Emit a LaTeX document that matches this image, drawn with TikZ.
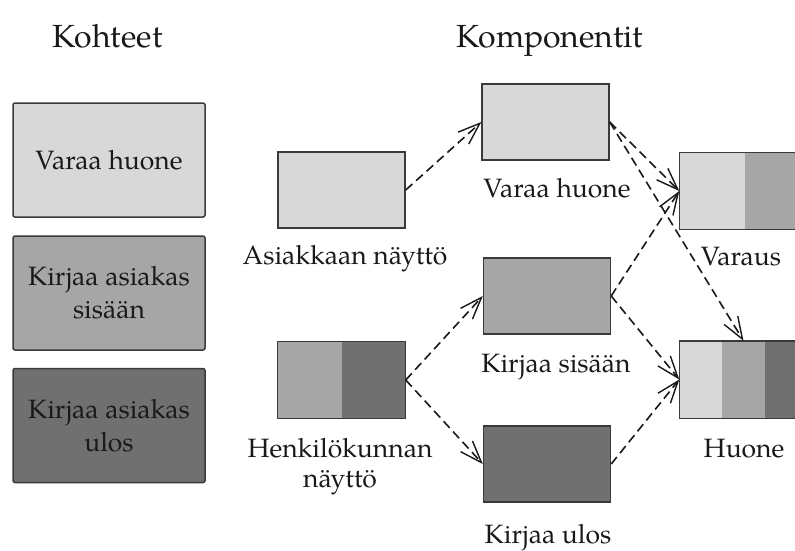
\documentclass[tikz,border=0pt]{standalone}
\usepackage{fontspec}
\setmainfont{TeX Gyre Pagella}
\usetikzlibrary{arrows.meta,calc}
\definecolor{lightg}{HTML}{D8D8D8}
\definecolor{midg}{HTML}{A6A6A6}
\definecolor{darkg}{HTML}{707070}
\definecolor{edgeg}{HTML}{3A3A3A}

\begin{document}
\begin{tikzpicture}[x=1pt,y=-1pt,
  every node/.style={font=\fontsize{26.5}{33}\selectfont, inner sep=0pt, text=black!90},
  titletext/.style={font=\fontsize{32}{38}\selectfont, anchor=base},
  labeltext/.style={anchor=base, align=center},
  taskbox/.style={draw=edgeg, line width=1.5pt, rounded corners=2pt,
    minimum width=192pt, minimum height=114pt, align=center},
  compbox/.style={draw=edgeg, line width=1.4pt, minimum width=127pt, minimum height=76pt},
  outline/.style={draw=edgeg, line width=1.4pt},
  uses/.style={draw=black!90, line width=1.6pt, dash pattern=on 9pt off 5pt,
    -{Straight Barb[length=22pt,width=16pt,line width=1.4pt]}}
]
\fill[white] (0,0) rectangle (795,550);
\useasboundingbox (0,0) rectangle (795,550);
\clip (0,0) rectangle (795,550);

% column titles
\node[titletext] (tkoht) at (107.5,47) {Kohteet};
\node[titletext] (tkomp) at (550,47) {Komponentit};

% use cases
\node[taskbox, fill=lightg] (k1) at (109,160) {Varaa huone};
\node[taskbox, fill=midg]   (k2) at (109,293) {Kirjaa asiakas\\sisään};
\node[taskbox, fill=darkg]  (k3) at (109,425.5) {Kirjaa asiakas\\ulos};

% single-colour components
\node[compbox, fill=lightg] (asi)    at (341.5,190) {};
\node[compbox, fill=lightg] (varaa)  at (545.5,122) {};
\node[compbox, fill=midg]   (sisaan) at (547,296) {};
\node[compbox, fill=darkg]  (ulos)   at (547,464) {};

% staff screen: two halves
\node[compbox, draw=none] (henk) at (341.5,380) {};
\fill[midg] (henk.north west) rectangle ($(henk.south west)!0.5!(henk.south east)$);
\fill[darkg] ($(henk.north west)!0.5!(henk.north east)$) rectangle (henk.south east);
\draw[outline] (henk.north west) rectangle (henk.south east);

% reservation: two halves
\node[compbox, draw=none, minimum width=130pt] (varaus) at (745,191) {};
\fill[lightg] (varaus.north west) rectangle ($(varaus.south west)!0.5!(varaus.south east)$);
\fill[midg] ($(varaus.north west)!0.5!(varaus.north east)$) rectangle (varaus.south east);
\draw[outline] (varaus.north west) rectangle (varaus.south east);

% room: three parts
\node[compbox, draw=none] (huone) at (743.5,379.5) {};
\fill[lightg] (huone.north west) rectangle ($(huone.south west)!1/3!(huone.south east)$);
\fill[midg] ($(huone.north west)!1/3!(huone.north east)$) rectangle ($(huone.south west)!2/3!(huone.south east)$);
\fill[darkg] ($(huone.north west)!2/3!(huone.north east)$) rectangle (huone.south east);
\draw[outline] (huone.north west) rectangle (huone.south east);

% component captions
\node[labeltext] (lasi)    at (345,264) {Asiakkaan näyttö};
\node[labeltext] (lvaraa)  at (557,197) {Varaa huone};
\node[labeltext] (lsisaan) at (556,372) {Kirjaa sisään};
\node[labeltext] (lhenk1)  at (340,457) {Henkilökunnan};
\node[labeltext] (lhenk2)  at (340,487) {näyttö};
\node[labeltext] (lulos)   at (548,543) {Kirjaa ulos};
\node[labeltext] (lvaraus) at (741,265) {Varaus};
\node[labeltext] (lhuone)  at (744,457) {Huone};

% dependencies
\draw[uses] (asi.east) -- (varaa.west);
\draw[uses] (henk.east) -- (sisaan.west);
\draw[uses] (henk.east) -- (ulos.west);
\draw[uses] (varaa.east) -- (varaus.west);
\draw[uses] (varaa.east) -- (huone.north);
\draw[uses] (sisaan.east) -- (varaus.west);
\draw[uses] (sisaan.east) -- (huone.west);
\draw[uses] (ulos.east) -- (huone.west);
\end{tikzpicture}
\end{document}
